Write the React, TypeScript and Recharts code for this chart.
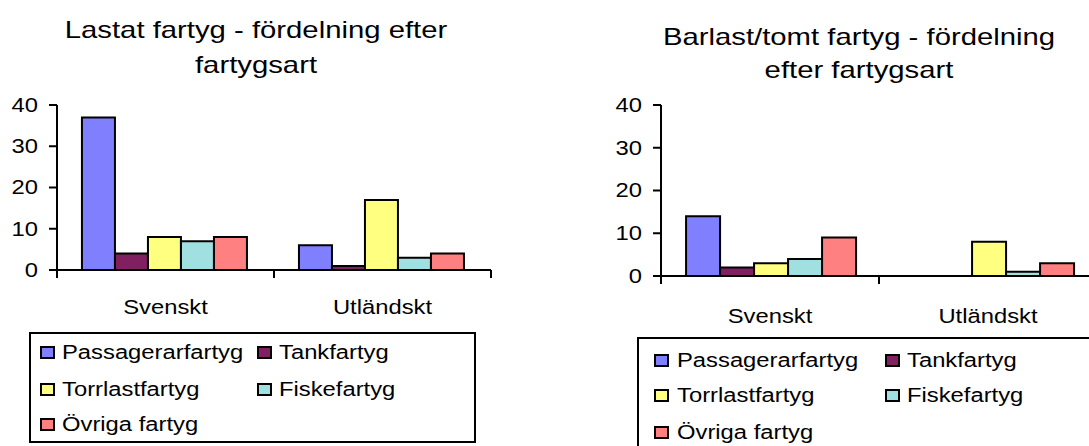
import { Bar, BarChart, Legend, XAxis, YAxis } from "recharts";

const CATEGORIES = ["Svenskt", "Utländskt"];
const SERIES = [
  "Passagerarfartyg",
  "Tankfartyg",
  "Torrlastfartyg",
  "Fiskefartyg",
  "Övriga fartyg",
];
const COLORS = ["#8080FF", "#802060", "#FFFF80", "#A0E0E0", "#FF8080"];

// lastat fartyg
const LASTAT_SVENSKT = [37, 4, 8, 7, 8];
const LASTAT_UTLANDSKT = [6, 1, 17, 3, 4];
// barlast / tomt fartyg
const BARLAST_SVENSKT = [14, 2, 3, 4, 9];
const BARLAST_UTLANDSKT = [0, 0, 8, 1, 3];

const Y_TICKS = [0, 10, 20, 30, 40];

const FONT = '"Liberation Sans", Arial, sans-serif';
const SX = 1.22; // the source image is stretched sideways
const LABEL_SIZE = 19.5;

function buildRows(sv: number[], ut: number[]) {
  return CATEGORIES.map((name, ci) => {
    const vals = ci === 0 ? sv : ut;
    const row: Record<string, string | number> = { name };
    SERIES.forEach((_, i) => {
      row["s" + i] = vals[i];
    });
    return row;
  });
}

const YTick = (p: any) => (
  <text
    transform={`translate(${p.x},${p.y}) scale(${SX},1)`}
    textAnchor="end"
    dy="0.35em"
    fontSize={LABEL_SIZE}
    fontFamily={FONT}
    fill="#000"
  >
    {p.payload.value}
  </text>
);

function makeXTick(bandW: number, labelDy: number) {
  return (p: any) => {
    const { x, y, index } = p;
    const last = index === CATEGORIES.length - 1;
    return (
      <g>
        <line x1={x - bandW / 2} x2={x - bandW / 2} y1={y} y2={y + 8} stroke="#000" strokeWidth={2} />
        {last && (
          <line x1={x + bandW / 2} x2={x + bandW / 2} y1={y} y2={y + 8} stroke="#000" strokeWidth={2} />
        )}
        <text
          transform={`translate(${x},${y + labelDy}) scale(${SX},1)`}
          textAnchor="middle"
          fontSize={LABEL_SIZE}
          fontFamily={FONT}
          fill="#000"
        >
          {p.payload.value}
        </text>
      </g>
    );
  };
}

type LegendGeo = { rows: number[]; iconX: number[]; textX: number[] };

function makeLegend(geo: LegendGeo) {
  return () => (
    <div
      style={{
        position: "relative",
        width: "100%",
        height: "100%",
        border: "2px solid #000",
        boxSizing: "border-box",
        background: "#fff",
      }}
    >
      {SERIES.map((s, i) => {
        const rc = geo.rows[Math.floor(i / 2)];
        const col = i % 2;
        return (
          <div key={s}>
            <div
              style={{
                position: "absolute",
                left: geo.iconX[col],
                top: rc - 6.5,
                width: 15,
                height: 13,
                boxSizing: "border-box",
                border: "2px solid #000",
                background: COLORS[i],
              }}
            />
            <span
              style={{
                position: "absolute",
                left: geo.textX[col],
                top: rc - 10.7,
                fontSize: LABEL_SIZE,
                lineHeight: "22px",
                fontFamily: FONT,
                color: "#000",
                whiteSpace: "nowrap",
                transform: `scaleX(${SX})`,
                transformOrigin: "0 0",
              }}
            >
              {s}
            </span>
          </div>
        );
      })}
    </div>
  );
}

type ChartProps = {
  left: number;
  width: number;
  rows: Record<string, string | number>[];
  title: string[];
  titleCx: number;
  titleTops: number[];
  yAxisW: number;
  margin: { top: number; right: number; bottom: number; left: number };
  labelDy: number;
  legendBox: { left: number; top: number; width: number; height: number };
  legendGeo: LegendGeo;
};

function ShipChart(props: ChartProps) {
  const { left, width, rows, margin, yAxisW } = props;
  const plotW = width - margin.left - margin.right - yAxisW;
  const bandW = plotW / CATEGORIES.length;
  return (
    <div style={{ position: "absolute", left, top: 0, width, height: 446 }}>
      {props.title.map((line, i) => (
        <div
          key={i}
          style={{
            position: "absolute",
            left: props.titleCx - 300,
            width: 600,
            top: props.titleTops[i],
            textAlign: "center",
            fontFamily: FONT,
            fontSize: 24,
            lineHeight: "24px",
            color: "#000",
            whiteSpace: "nowrap",
            transform: `scaleX(${SX})`,
          }}
        >
          {line}
        </div>
      ))}
      <BarChart
        width={width}
        height={446}
        data={rows}
        margin={margin}
        barGap={0}
        barCategoryGap="11.5%"
      >
        <XAxis
          dataKey="name"
          axisLine={{ stroke: "#000", strokeWidth: 2 }}
          tickLine={false}
          tickSize={0}
          tickMargin={0}
          height={40}
          interval={0}
          tick={makeXTick(bandW, props.labelDy)}
        />
        <YAxis
          type="number"
          domain={[0, 40]}
          ticks={Y_TICKS}
          interval={0}
          width={yAxisW}
          axisLine={{ stroke: "#000", strokeWidth: 2 }}
          tickLine={{ stroke: "#000", strokeWidth: 2 }}
          tickSize={8}
          tickMargin={11}
          tick={YTick}
        />
        {SERIES.map((s, i) => (
          <Bar
            key={s}
            dataKey={"s" + i}
            name={s}
            fill={COLORS[i]}
            stroke="#000"
            strokeWidth={2}
            isAnimationActive={false}
          />
        ))}
        <Legend
          layout="vertical"
          align="center"
          verticalAlign="middle"
          wrapperStyle={{ ...props.legendBox }}
          content={makeLegend(props.legendGeo)}
        />
      </BarChart>
    </div>
  );
}

export default function App() {
  return (
    <div
      style={{
        position: "absolute",
        left: 0,
        top: 0,
        width: 1089,
        height: 446,
        overflow: "hidden",
        background: "#fff",
      }}
    >
      <ShipChart
        left={0}
        width={545}
        rows={buildRows(LASTAT_SVENSKT, LASTAT_UTLANDSKT)}
        title={["Lastat fartyg - fördelning efter", "fartygsart"]}
        titleCx={256}
        titleTops={[18, 53]}
        yAxisW={57}
        margin={{ top: 105, right: 54, bottom: 136, left: 0 }}
        labelDy={44}
        legendBox={{ left: 29, top: 332, width: 447, height: 111 }}
        legendGeo={{ rows: [18, 55, 90], iconX: [9, 226], textX: [31, 248] }}
      />
      <ShipChart
        left={545}
        width={560}
        rows={buildRows(BARLAST_SVENSKT, BARLAST_UTLANDSKT)}
        title={["Barlast/tomt fartyg - fördelning", "efter fartygsart"]}
        titleCx={859 - 545}
        titleTops={[25, 58]}
        yAxisW={116}
        margin={{ top: 105, right: 8, bottom: 130, left: 0 }}
        labelDy={47}
        legendBox={{ left: 92, top: 337, width: 560, height: 130 }}
        legendGeo={{ rows: [21, 56, 93], iconX: [15, 246], textX: [38, 268] }}
      />
    </div>
  );
}
